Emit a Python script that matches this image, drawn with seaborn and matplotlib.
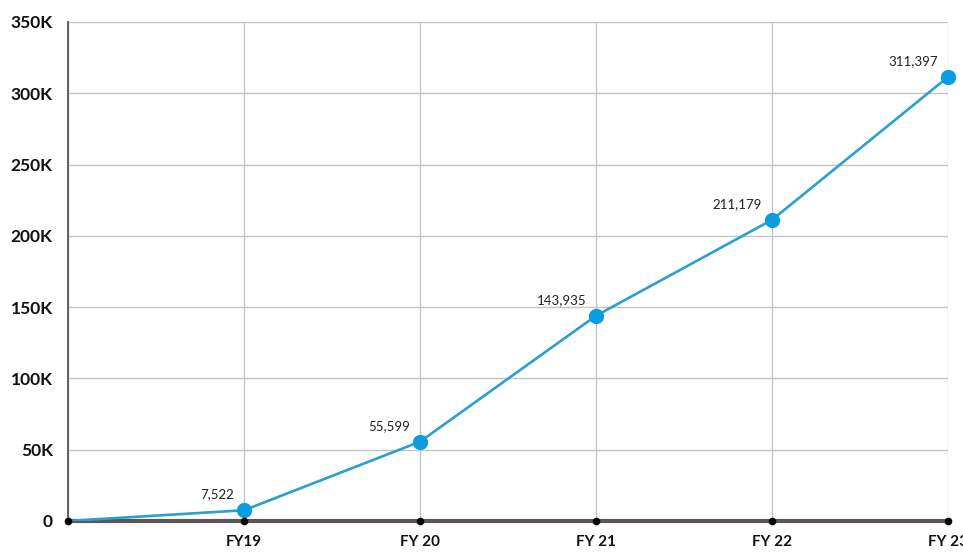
import matplotlib
matplotlib.use("Agg")
import matplotlib.pyplot as plt
import seaborn as sns
import pandas as pd

# data
categories = ["", "FY19", "FY 20", "FY 21", "FY 22", "FY 23"]
values = [0, 7522, 55599, 143935, 211179, 311397]
y_ticks = [0, 50000, 100000, 150000, 200000, 250000, 300000, 350000]
y_tick_labels = ["0", "50K", "100K", "150K", "200K", "250K", "300K", "350K"]

sns.set_style("white")
plt.rcParams["font.family"] = ["Lato", "DejaVu Sans"]

df = pd.DataFrame({"pos": range(len(categories)), "value": values})

fig = plt.figure(figsize=(9.63, 5.52), dpi=100)
ax = fig.add_axes([0.0706, 0.0562, 0.9138, 0.9040])

line_col = "#2a9fd0"
sns.lineplot(data=df, x="pos", y="value", color=line_col, linewidth=1.9, ax=ax, zorder=3)
pts = df[df["pos"] > 0]
ax.plot(pts["pos"], pts["value"], "o", color="#0c9ce0", markersize=10, zorder=4, clip_on=False)

# small black dots on the x-axis
ax.plot(df["pos"], [0] * len(df), "o", color="black", markersize=4.5, zorder=5, clip_on=False)

# value labels
for p, v in zip(pts["pos"], pts["value"]):
    ax.annotate(f"{v:,}", (p, v), xytext=(-7, 7), textcoords="offset points",
                ha="right", va="bottom", fontsize=9.5, color="#222222")

ax.set_xlim(0, len(categories) - 1)
ax.set_ylim(0, 350000)
ax.set_xticks(df["pos"])
ax.set_xticklabels(categories)
ax.set_yticks(y_ticks)
ax.set_yticklabels(y_tick_labels)
ax.set_xlabel("")
ax.set_ylabel("")

ax.grid(True, color="#c4c4c4", linewidth=1.0)
ax.set_axisbelow(True)

for s in ["top", "right"]:
    ax.spines[s].set_visible(False)
ax.spines["left"].set_color("#555555")
ax.spines["left"].set_linewidth(1.3)
ax.spines["bottom"].set_color("#5e5656")
ax.spines["bottom"].set_linewidth(3)

ax.tick_params(axis="both", length=0)
ax.tick_params(axis="y", pad=11, labelsize=12.5)
ax.tick_params(axis="x", pad=10, labelsize=11)
for t in ax.get_xticklabels() + ax.get_yticklabels():
    t.set_fontweight("bold")
    t.set_color("#111111")

fig.savefig("out.png", dpi=100, facecolor="white")
